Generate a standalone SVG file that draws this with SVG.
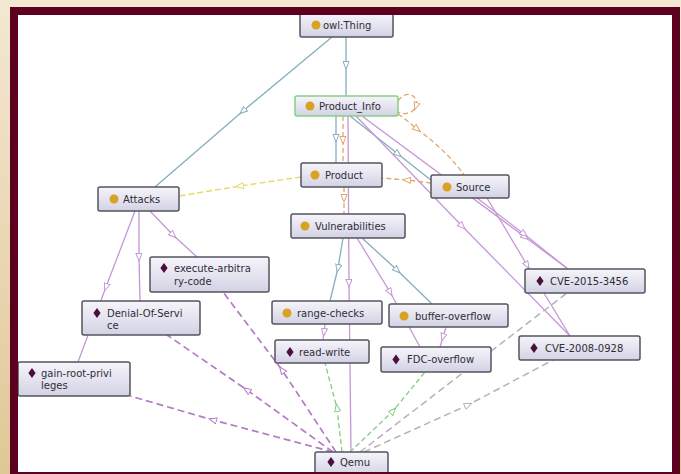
<svg xmlns="http://www.w3.org/2000/svg" xmlns:xlink="http://www.w3.org/1999/xlink" width="681" height="474" viewBox="0 0 681 474">
<defs>
<linearGradient id="bg" x1="0" y1="0" x2="0" y2="1">
<stop offset="0" stop-color="#f4e8d3"/><stop offset="1" stop-color="#e0c796"/>
</linearGradient>
<linearGradient id="nf" x1="0" y1="0" x2="0" y2="1">
<stop offset="0" stop-color="#f6f5fb"/><stop offset="1" stop-color="#d3d2e4"/>
</linearGradient>
<path id="dia" d="M0,-5 L3.6,0 L0,5 L-3.6,0 Z" fill="#4a0f3c"/>
<marker id="mb" markerWidth="10" markerHeight="8" refX="4" refY="3.5" orient="auto" markerUnits="userSpaceOnUse"><path d="M0.5,0.5 L8,3.5 L0.5,6.5 Z" fill="#fff" stroke="#86aebf" stroke-width="1"/></marker>
<marker id="mp" markerWidth="10" markerHeight="8" refX="4" refY="3.5" orient="auto" markerUnits="userSpaceOnUse"><path d="M0.5,0.5 L8,3.5 L0.5,6.5 Z" fill="#fff" stroke="#c597d6" stroke-width="1"/></marker>
<marker id="mpd" markerWidth="10" markerHeight="8" refX="4" refY="3.5" orient="auto" markerUnits="userSpaceOnUse"><path d="M0.5,0.5 L8,3.5 L0.5,6.5 Z" fill="#fff" stroke="#b47bc6" stroke-width="1"/></marker>
<marker id="mo" markerWidth="10" markerHeight="8" refX="4" refY="3.5" orient="auto" markerUnits="userSpaceOnUse"><path d="M0.5,0.5 L8,3.5 L0.5,6.5 Z" fill="#fff" stroke="#e2a56b" stroke-width="1"/></marker>
<marker id="my" markerWidth="10" markerHeight="8" refX="4" refY="3.5" orient="auto" markerUnits="userSpaceOnUse"><path d="M0.5,0.5 L8,3.5 L0.5,6.5 Z" fill="#fff" stroke="#e4dc6a" stroke-width="1"/></marker>
<marker id="mg" markerWidth="10" markerHeight="8" refX="4" refY="3.5" orient="auto" markerUnits="userSpaceOnUse"><path d="M0.5,0.5 L8,3.5 L0.5,6.5 Z" fill="#fff" stroke="#7fcf7f" stroke-width="1"/></marker>
<marker id="mgr" markerWidth="10" markerHeight="8" refX="4" refY="3.5" orient="auto" markerUnits="userSpaceOnUse"><path d="M0.5,0.5 L8,3.5 L0.5,6.5 Z" fill="#fff" stroke="#b3b3b3" stroke-width="1"/></marker>
</defs>
<style>
.e{fill:none;stroke-width:1.3}
.blue{stroke:#86aebf;marker-mid:url(#mb)}
.pur{stroke:#c597d6;marker-mid:url(#mp)}
.pd{stroke:#b47bc6;stroke-width:1.7;stroke-dasharray:7 4;marker-mid:url(#mpd)}
.or{stroke:#e2a56b;stroke-dasharray:5 3;marker-mid:url(#mo)}
.ye{stroke:#e4dc6a;stroke-width:1.5;stroke-dasharray:6 3;marker-mid:url(#my)}
.gr{stroke:#7fcf7f;stroke-dasharray:5 3;marker-mid:url(#mg)}
.gy{stroke:#b3b3b3;stroke-width:1.5;stroke-dasharray:7 4;marker-mid:url(#mgr)}
.box{fill:url(#nf);stroke:#54545e;stroke-width:1.5}
.sh{fill:#8a8a96;opacity:0.35}
.cls{fill:#d6a324}
text{font-family:"DejaVu Sans","Liberation Sans",sans-serif;font-size:10px;fill:#2e2e36}
</style>
<rect x="0" y="0" width="681" height="474" fill="url(#bg)"/>
<rect x="18" y="15" width="654" height="458" fill="#ffffff"/>
<g id="connectors">
<path class="e blue" d="M346,37 L346,65 L346,96"/>
<path class="e blue" d="M332,37 L243,111 L155,187"/>
<path class="e blue" d="M336,116 L336,138 L336,163"/>
<path class="e blue" d="M350,116 L398,154 L432,181"/>
<path class="e blue" d="M343,238 L338,268 L330,301"/>
<path class="e blue" d="M362,238 L397,270 L432,304"/>
<path class="e pur" d="M348,116 L349,283 L351,452"/>
<path class="e pur" d="M362,116 L525,237 L568,269"/>
<path class="e pur" d="M356,116 L462,226 L570,336"/>
<path class="e pur" d="M477,198 L524,234 L568,269"/>
<path class="e pur" d="M487,198 L527,265 L570,336"/>
<path class="e pur" d="M135,211 L106,287 L78,362"/>
<path class="e pur" d="M139,211 L139,257 L140,301"/>
<path class="e pur" d="M150,211 L173,235 L197,257"/>
<path class="e pur" d="M357,238 L390,292 L420,347"/>
<path class="e pur" d="M325,324 L324,332 L323,340"/>
<path class="e pur" d="M446,327 L443,337 L440,347"/>
<path class="e or" d="M398,101 C406,89 419,95 416,106 C413,114 405,115 398,112"/>
<path class="e or" d="M398,114 Q408,121 417,129 Q448,152 464,175"/>
<path class="e or" d="M431,183 L407,180 L382,178"/>
<path class="e or" d="M343,116 L343,140 L343,163"/>
<path class="e or" d="M344,187 L344,198 L344,214"/>
<path class="e ye" d="M301,177 L240,186 L179,196"/>
<path class="e pd" d="M333,452 L213,420 L130,396"/>
<path class="e pd" d="M333,452 L247,390 L167,335"/>
<path class="e pd" d="M336,452 L282,370 L223,292"/>
<path class="e gr" d="M342,452 L337,408 L325,363"/>
<path class="e gr" d="M350,452 L393,411 L425,372"/>
<path class="e gy" d="M360,452 L477,362 L567,293"/>
<path class="e gy" d="M364,452 L468,405 L553,360"/>
</g>
<g id="owl-thing"><rect class="box" x="300" y="13" width="93" height="24" rx="2"/><circle class="cls" cx="316" cy="25" r="4.5"/><text x="323" y="28.5">owl:Thing</text></g>
<g id="product-info"><rect class="box" x="295" y="96" width="103" height="20" rx="2" style="stroke:#84d184"/><circle class="cls" cx="310" cy="106" r="4.5"/><text x="319" y="109.5">Product_Info</text></g>
<g id="product"><rect class="box" x="301" y="163" width="81" height="24" rx="2"/><circle class="cls" cx="315" cy="175" r="4.5"/><text x="325" y="178.5">Product</text></g>
<g id="vulnerabilities"><rect class="box" x="291" y="214" width="114" height="24" rx="2"/><circle class="cls" cx="305" cy="226" r="4.5"/><text x="315" y="229.5">Vulnerabilities</text></g>
<g id="source"><rect class="box" x="431" y="175" width="78" height="23" rx="2"/><circle class="cls" cx="447" cy="187" r="4.5"/><text x="456" y="190.5">Source</text></g>
<g id="attacks"><rect class="box" x="98" y="187" width="81" height="24" rx="2"/><circle class="cls" cx="114" cy="199" r="4.5"/><text x="123" y="202.5">Attacks</text></g>
<g id="execute-arbitrary-code"><rect class="box" x="150" y="257" width="119" height="35" rx="2"/><use xlink:href="#dia" x="164" y="268"/><text x="174" y="271.5">execute-arbitra</text><text x="174" y="285">ry-code</text></g>
<g id="denial-of-service"><rect class="box" x="82" y="301" width="118" height="34" rx="2"/><use xlink:href="#dia" x="97" y="313"/><text x="107" y="316.5">Denial-Of-Servi</text><text x="107" y="329">ce</text></g>
<g id="gain-root-privileges"><rect class="box" x="18" y="362" width="112" height="34" rx="2"/><use xlink:href="#dia" x="32" y="373"/><text x="41" y="376.5">gain-root-privi</text><text x="41" y="389">leges</text></g>
<g id="range-checks"><rect class="box" x="272" y="301" width="110" height="23" rx="2"/><circle class="cls" cx="287" cy="313" r="4.5"/><text x="297" y="316.5">range-checks</text></g>
<g id="buffer-overflow"><rect class="box" x="389" y="304" width="119" height="23" rx="2"/><circle class="cls" cx="404" cy="316" r="4.5"/><text x="415" y="319.5">buffer-overflow</text></g>
<g id="read-write"><rect class="box" x="275" y="340" width="94" height="23" rx="2"/><use xlink:href="#dia" x="290" y="352"/><text x="299" y="355.5">read-write</text></g>
<g id="fdc-overflow"><rect class="box" x="381" y="347" width="110" height="25" rx="2"/><use xlink:href="#dia" x="396" y="359.5"/><text x="407" y="363">FDC-overflow</text></g>
<g id="cve-2015-3456"><rect class="box" x="525" y="269" width="120" height="24" rx="2"/><use xlink:href="#dia" x="540" y="281"/><text x="550" y="284.5">CVE-2015-3456</text></g>
<g id="cve-2008-0928"><rect class="box" x="519" y="336" width="121" height="24" rx="2"/><use xlink:href="#dia" x="534" y="348"/><text x="545" y="351.5">CVE-2008-0928</text></g>
<g id="qemu"><rect class="box" x="315" y="452" width="73" height="24" rx="2"/><use xlink:href="#dia" x="331" y="462"/><text x="340" y="465.5">Qemu</text></g>
<path d="M10,7 H680 V474 H10 Z M18,15 V472 H672 V15 Z" fill="#5c0020" fill-rule="evenodd"/>
</svg>
